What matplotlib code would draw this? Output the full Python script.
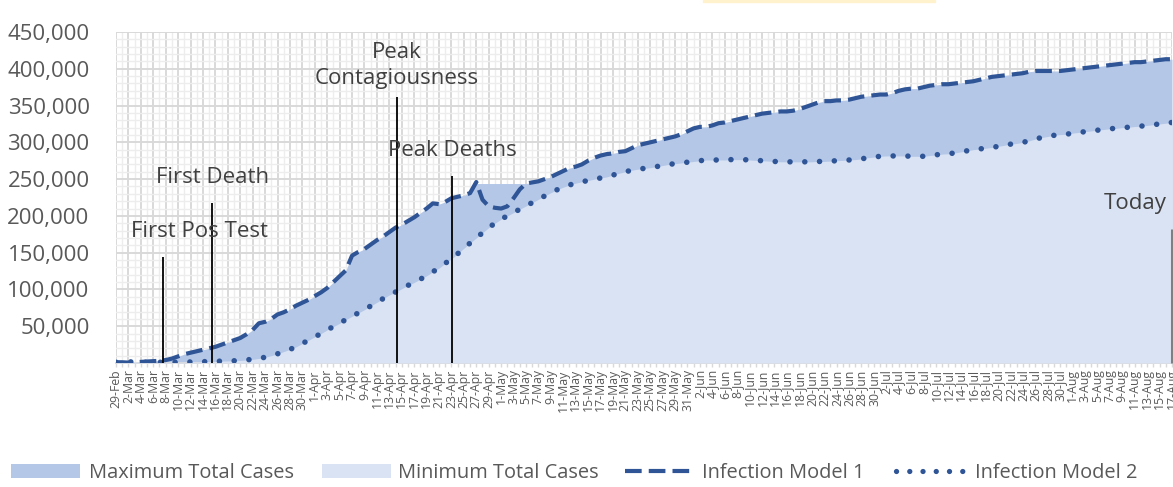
import matplotlib
matplotlib.use('Agg')
import matplotlib.pyplot as plt
import numpy as np
import pandas as pd
from matplotlib.patches import Rectangle, Patch
from matplotlib.lines import Line2D
from matplotlib.ticker import FuncFormatter, MultipleLocator

# ---------------- data ----------------
dates = pd.date_range('2020-02-29', '2020-08-17', freq='D')
categories = [f"{d.day}-{d.strftime('%b')}" for d in dates]

model1 = [
    1000, 1000, 500, 1000, 1500, 2000, 2500, 3000, 4000, 6000,
    9000, 12000, 14000, 16000, 18000, 20000, 22000, 25000, 28000, 31000,
    34000, 39000, 45000, 54000, 56000, 60000, 66000, 69000, 73000, 78000,
    82000, 86000, 91000, 96000, 102000, 110000, 118000, 126000, 146000, 151000,
    155000, 161000, 167000, 172000, 178000, 184000, 188000, 193000, 198000, 204000,
    210000, 217000, 216000, 219000, 224000, 226000, 228000, 231000, 246000, 222000,
    213000, 211000, 210000, 213000, 224000, 236000, 244000, 245500, 247000, 250000,
    253000, 257000, 261000, 265000, 267000, 270000, 275000, 279000, 282000, 284000,
    285000, 287000, 288000, 292000, 296000, 298000, 300000, 302000, 304000, 306000,
    308000, 311000, 315000, 319000, 321000, 321000, 323000, 326000, 327000, 329000,
    331000, 333000, 335000, 337000, 339000, 340000, 341000, 342000, 342000, 343000,
    345000, 348000, 351000, 354000, 356000, 356000, 357000, 357000, 358000, 360000,
    362000, 363000, 364000, 365000, 365000, 367000, 370000, 372000, 373000, 373000,
    375000, 377000, 378000, 379000, 379000, 380000, 381000, 382000, 383000, 385000,
    387000, 389000, 390000, 391000, 392000, 393000, 394000, 396000, 397000, 397000,
    397000, 397000, 397000, 398000, 399000, 400000, 401000, 402000, 403000, 404000,
    405000, 406000, 407000, 408000, 409000, 409000, 410000, 411000, 412000, 413000,
    413000,
]

max_total = [
    1000, 1000, 500, 1000, 1500, 2000, 2500, 3000, 4000, 6000,
    9000, 12000, 14000, 16000, 18000, 20000, 22000, 25000, 28000, 31000,
    34000, 39000, 45000, 54000, 56000, 60000, 66000, 69000, 73000, 78000,
    82000, 86000, 91000, 96000, 102000, 110000, 118000, 126000, 146000, 151000,
    155000, 161000, 167000, 172000, 178000, 184000, 188000, 193000, 198000, 204000,
    210000, 217000, 216000, 219000, 224000, 226000, 228000, 231000, 244000, 244000,
    244000, 244000, 244000, 244000, 244000, 244000, 244000, 245500, 247000, 250000,
    253000, 257000, 261000, 265000, 267000, 270000, 275000, 279000, 282000, 284000,
    285000, 287000, 288000, 292000, 296000, 298000, 300000, 302000, 304000, 306000,
    308000, 311000, 315000, 319000, 321000, 321000, 323000, 326000, 327000, 329000,
    331000, 333000, 335000, 337000, 339000, 340000, 341000, 342000, 342000, 343000,
    345000, 348000, 351000, 354000, 356000, 356000, 357000, 357000, 358000, 360000,
    362000, 363000, 364000, 365000, 365000, 367000, 370000, 372000, 373000, 373000,
    375000, 377000, 378000, 379000, 379000, 380000, 381000, 382000, 383000, 385000,
    387000, 389000, 390000, 391000, 392000, 393000, 394000, 396000, 397000, 397000,
    397000, 397000, 397000, 398000, 399000, 400000, 401000, 402000, 403000, 404000,
    405000, 406000, 407000, 408000, 409000, 409000, 410000, 411000, 412000, 413000,
    413000,
]

model2 = [
    1000, 1000, 1500, 1500, 1000, 1000, 1000, 1000, 1000, 1000,
    1000, 1200, 1400, 1500, 1700, 1900, 2200, 2600, 2800, 3000,
    3500, 4200, 5000, 6200, 7800, 10000, 12500, 15500, 18500, 22000,
    26500, 31000, 35500, 40000, 45000, 49500, 54000, 59000, 63500, 68000,
    72500, 77500, 82500, 87500, 92500, 96500, 101000, 105500, 109500, 114000,
    118500, 124000, 129000, 135500, 141500, 148500, 156000, 163000, 170000, 177000,
    184000, 190000, 195500, 200000, 204500, 209000, 213500, 218000, 222500, 227000,
    231500, 235500, 239000, 242000, 244500, 246500, 248000, 250000, 251500, 253000,
    255500, 258000, 260000, 262000, 263500, 264500, 265500, 267000, 268500, 270000,
    271000, 272000, 273000, 274000, 275000, 276000, 276000, 276000, 276000, 276500,
    276500, 276500, 276000, 275500, 275000, 274500, 274000, 273500, 273500, 273500,
    273500, 273500, 273500, 274000, 274000, 274500, 275000, 275500, 276000, 276500,
    277500, 279000, 280000, 281000, 281500, 281500, 281500, 281500, 281000, 281000,
    281000, 282000, 283000, 284000, 284500, 285500, 287000, 288500, 290000, 291000,
    292000, 293000, 294500, 296000, 297500, 298500, 300000, 302000, 304500, 306500,
    308000, 309500, 310500, 311000, 312500, 313500, 314500, 315500, 316500, 317500,
    318500, 319000, 320000, 320500, 321500, 322000, 323000, 324000, 325000, 326000,
    327000,
]

# minimum total cases area follows infection model 2
min_total = list(model2)

event_labels = ["First Pos Test", "First Death", "Peak\nContagiousness", "Peak Deaths", "Today"]
event_day = [7.6, 15.5, 45.2, 54.1, 170]
event_top = [144000, 217000, 362000, 254000, 182000]
label_day = [13.5, 15.5, 45.2, 54.2, 164.0]
label_val = [179000, 252700, 404500, 289400, 217400]

series_names = ["Maximum Total Cases", "Minimum Total Cases", "Infection Model 1", "Infection Model 2"]

# ---------------- style ----------------
FONT = ['Open Sans', 'DejaVu Sans']
plt.rcParams['font.family'] = FONT
C_MAX = '#B4C7E7'
C_MIN = '#DAE3F3'
C_LINE = '#2F5597'
C_TXT = '#595959'
C_ANN = '#404040'
DASH = (0, (4.0, 1.7))
DOT = (0, (0.01, 2.65))

fig = plt.figure(figsize=(11.73, 4.87), dpi=100)
ax = fig.add_axes([116 / 1173, 1 - 363 / 487, (1172 - 116) / 1173, (363 - 32) / 487])

x = np.arange(len(categories))

ax.fill_between(x, 0, max_total, color=C_MAX, lw=0, zorder=2)
ax.fill_between(x, 0, min_total, color=C_MIN, lw=0, zorder=3)

ax.plot(x, model1, color=C_LINE, lw=3.0, linestyle=DASH, zorder=5)
ax.plot(x, model2, color=C_LINE, lw=4.0, linestyle=DOT, dash_capstyle='round', zorder=5)

# event markers
for i in range(4):
    ax.vlines(event_day[i], 0, event_top[i], color='black', lw=1.3, zorder=6)
ax.vlines(event_day[4], 0, event_top[4], color='#7F7F7F', lw=2.2, zorder=6, clip_on=False)
for lab, d, v in zip(event_labels, label_day, label_val):
    ax.text(d, v, lab, ha='center', va='center', fontsize=16, color=C_ANN,
            linespacing=1.35, zorder=7)

# axes
ax.set_xlim(0, 170)
ax.set_ylim(0, 450000)
ax.set_axisbelow(True)

ax.set_xticks(x[::2])
ax.set_xticklabels(categories[::2], rotation=90, fontsize=8.8, color=C_TXT)
ax.xaxis.set_minor_locator(MultipleLocator(1))
ax.yaxis.set_major_locator(MultipleLocator(50000))
ax.yaxis.set_minor_locator(MultipleLocator(10000))
ax.yaxis.set_major_formatter(FuncFormatter(lambda v, p: '' if v == 0 else f'{int(v):,}'))

ax.grid(which='major', color='#D9D9D9', lw=1.4)
ax.grid(which='minor', color='#EDEDED', lw=1.0)

ax.tick_params(axis='y', which='both', length=0, labelsize=16, labelcolor=C_TXT, pad=19)
ax.tick_params(axis='x', which='major', length=3, color='#D9D9D9', width=1, pad=1.5)
ax.tick_params(axis='x', which='minor', length=3, color='#D9D9D9', width=1)

for s in ['top', 'right', 'left']:
    ax.spines[s].set_visible(False)
ax.spines['bottom'].set_color('#D9D9D9')
ax.spines['bottom'].set_linewidth(1.4)

# legend: one entry per block, placed like the reference
handles = [
    Patch(facecolor=C_MAX, edgecolor='none'),
    Patch(facecolor=C_MIN, edgecolor='none'),
    Line2D([0], [0], color=C_LINE, lw=3.0, linestyle=DASH),
    Line2D([0], [0], color=C_LINE, lw=3.8, linestyle=(0, (0.01, 2.5)), dash_capstyle='round'),
]
legend_x = [11, 322, 625, 896]
legend_pad = [0.45, 0.35, 0.4, 0.5]
for h, name, lx, tp in zip(handles, series_names, legend_x, legend_pad):
    leg = fig.legend([h], [name], loc='center left', bbox_to_anchor=(lx / 1173, 1 - 473 / 487),
                     frameon=False, fontsize=14.4, handlelength=3.45, handleheight=0.7,
                     handletextpad=tp, borderaxespad=0, borderpad=0)
    for t in leg.get_texts():
        t.set_color(C_TXT)

# faint banner at very top
fig.patches.append(Rectangle((703 / 1173, 1 - 2 / 487), (935 - 703) / 1173, 2 / 487,
                             transform=fig.transFigure, color='#FFF2CC', zorder=0))

fig.savefig('out.png', dpi=100)
